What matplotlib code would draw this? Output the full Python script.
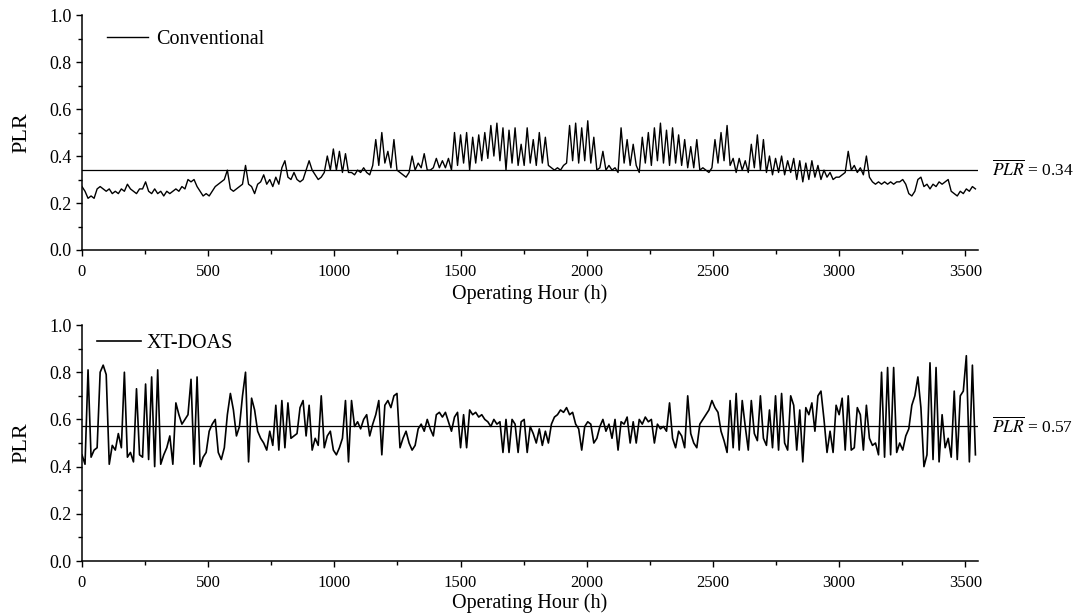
import numpy as np
import matplotlib.pyplot as plt
from matplotlib.ticker import MultipleLocator, FormatStrFormatter
import matplotlib.transforms as mtransforms

plt.rcParams['font.family'] = ['Liberation Serif', 'DejaVu Serif']
plt.rcParams['mathtext.fontset'] = 'stix'

# hourly part-load ratio, sampled every 12 operating hours
hours = np.arange(0, 3552, 12)

plr_conventional = [
    0.27, 0.25, 0.22, 0.23, 0.22, 0.26, 0.27, 0.26, 0.25, 0.26, 0.24, 0.25, 0.24, 0.26, 0.25, 0.28, 0.26, 0.25, 0.24, 0.26,
    0.26, 0.29, 0.25, 0.24, 0.26, 0.24, 0.25, 0.23, 0.25, 0.24, 0.25, 0.26, 0.25, 0.27, 0.26, 0.30, 0.29, 0.30, 0.27, 0.25,
    0.23, 0.24, 0.23, 0.25, 0.27, 0.28, 0.29, 0.30, 0.34, 0.26, 0.25, 0.26, 0.27, 0.28, 0.36, 0.28, 0.27, 0.24, 0.28, 0.29,
    0.32, 0.28, 0.30, 0.27, 0.31, 0.28, 0.35, 0.38, 0.31, 0.30, 0.33, 0.30, 0.29, 0.30, 0.34, 0.38, 0.34, 0.32, 0.30, 0.31,
    0.33, 0.40, 0.34, 0.43, 0.34, 0.42, 0.33, 0.41, 0.33, 0.33, 0.32, 0.34, 0.33, 0.35, 0.33, 0.32, 0.36, 0.47, 0.36, 0.50,
    0.37, 0.42, 0.35, 0.47, 0.34, 0.33, 0.32, 0.31, 0.33, 0.40, 0.34, 0.37, 0.35, 0.41, 0.34, 0.34, 0.35, 0.39, 0.35, 0.38,
    0.35, 0.39, 0.34, 0.50, 0.36, 0.49, 0.37, 0.50, 0.34, 0.48, 0.37, 0.49, 0.38, 0.50, 0.39, 0.53, 0.40, 0.54, 0.38, 0.52,
    0.34, 0.51, 0.37, 0.52, 0.36, 0.45, 0.36, 0.52, 0.37, 0.47, 0.36, 0.50, 0.37, 0.48, 0.36, 0.35, 0.34, 0.35, 0.34, 0.36,
    0.37, 0.53, 0.38, 0.54, 0.37, 0.52, 0.38, 0.55, 0.37, 0.48, 0.34, 0.35, 0.42, 0.34, 0.36, 0.34, 0.35, 0.33, 0.52, 0.37,
    0.47, 0.36, 0.45, 0.36, 0.33, 0.48, 0.37, 0.50, 0.36, 0.52, 0.38, 0.54, 0.37, 0.51, 0.36, 0.52, 0.37, 0.49, 0.36, 0.47,
    0.35, 0.44, 0.35, 0.47, 0.34, 0.35, 0.34, 0.33, 0.35, 0.47, 0.37, 0.50, 0.38, 0.53, 0.36, 0.39, 0.33, 0.39, 0.34, 0.38,
    0.33, 0.45, 0.35, 0.49, 0.34, 0.47, 0.33, 0.40, 0.32, 0.39, 0.33, 0.40, 0.32, 0.38, 0.33, 0.39, 0.30, 0.38, 0.29, 0.37,
    0.30, 0.38, 0.31, 0.36, 0.30, 0.34, 0.31, 0.33, 0.30, 0.31, 0.31, 0.32, 0.33, 0.42, 0.34, 0.36, 0.33, 0.35, 0.32, 0.40,
    0.31, 0.29, 0.28, 0.29, 0.28, 0.29, 0.28, 0.29, 0.28, 0.29, 0.29, 0.30, 0.28, 0.24, 0.23, 0.25, 0.30, 0.31, 0.27, 0.28,
    0.26, 0.28, 0.27, 0.29, 0.28, 0.29, 0.30, 0.25, 0.24, 0.23, 0.25, 0.24, 0.26, 0.25, 0.27, 0.26,
]

plr_xtdoas = [
    0.45, 0.41, 0.81, 0.44, 0.47, 0.48, 0.80, 0.83, 0.79, 0.41, 0.49, 0.47, 0.54, 0.48, 0.80, 0.44, 0.46, 0.42, 0.73, 0.45,
    0.44, 0.75, 0.43, 0.78, 0.40, 0.81, 0.41, 0.45, 0.48, 0.53, 0.41, 0.67, 0.62, 0.58, 0.60, 0.62, 0.77, 0.41, 0.78, 0.40,
    0.44, 0.46, 0.55, 0.58, 0.60, 0.46, 0.43, 0.48, 0.62, 0.71, 0.64, 0.53, 0.57, 0.70, 0.80, 0.42, 0.69, 0.64, 0.55, 0.52,
    0.50, 0.47, 0.55, 0.49, 0.66, 0.47, 0.68, 0.48, 0.67, 0.52, 0.53, 0.54, 0.65, 0.68, 0.53, 0.66, 0.47, 0.52, 0.49, 0.70,
    0.48, 0.53, 0.55, 0.47, 0.45, 0.48, 0.52, 0.68, 0.42, 0.68, 0.57, 0.59, 0.56, 0.60, 0.62, 0.53, 0.58, 0.62, 0.68, 0.45,
    0.66, 0.68, 0.65, 0.70, 0.71, 0.48, 0.52, 0.55, 0.50, 0.47, 0.49, 0.56, 0.58, 0.55, 0.60, 0.56, 0.53, 0.62, 0.63, 0.61,
    0.63, 0.59, 0.55, 0.61, 0.63, 0.48, 0.62, 0.48, 0.64, 0.62, 0.63, 0.61, 0.62, 0.60, 0.59, 0.57, 0.60, 0.58, 0.59, 0.46,
    0.60, 0.46, 0.60, 0.58, 0.46, 0.59, 0.60, 0.46, 0.57, 0.54, 0.50, 0.56, 0.49, 0.55, 0.50, 0.58, 0.61, 0.62, 0.64, 0.63,
    0.65, 0.62, 0.63, 0.58, 0.56, 0.47, 0.57, 0.59, 0.58, 0.50, 0.52, 0.57, 0.60, 0.55, 0.58, 0.52, 0.60, 0.47, 0.59, 0.58,
    0.61, 0.50, 0.59, 0.50, 0.60, 0.58, 0.61, 0.59, 0.60, 0.50, 0.58, 0.56, 0.57, 0.55, 0.67, 0.52, 0.48, 0.55, 0.53, 0.48,
    0.70, 0.54, 0.50, 0.48, 0.58, 0.60, 0.62, 0.64, 0.68, 0.65, 0.63, 0.55, 0.51, 0.46, 0.68, 0.48, 0.71, 0.47, 0.68, 0.57,
    0.47, 0.68, 0.54, 0.51, 0.70, 0.52, 0.49, 0.64, 0.48, 0.70, 0.47, 0.71, 0.50, 0.47, 0.70, 0.66, 0.47, 0.64, 0.42, 0.65,
    0.62, 0.67, 0.55, 0.70, 0.72, 0.60, 0.46, 0.55, 0.46, 0.66, 0.62, 0.69, 0.47, 0.70, 0.47, 0.48, 0.65, 0.62, 0.47, 0.66,
    0.52, 0.49, 0.50, 0.45, 0.80, 0.44, 0.82, 0.45, 0.82, 0.46, 0.50, 0.47, 0.53, 0.56, 0.66, 0.70, 0.78, 0.65, 0.40, 0.45,
    0.84, 0.43, 0.82, 0.42, 0.62, 0.48, 0.52, 0.44, 0.72, 0.43, 0.70, 0.72, 0.87, 0.42, 0.83, 0.45,
]

# name, values, mean PLR, line width, legend anchor, handle length, handle gap, xlabel offset
series = [("Conventional", plr_conventional, 0.34, 1.0, (0.0235, 0.955), 2.05, 0.4, -0.147),
          ("XT-DOAS", plr_xtdoas, 0.57, 1.2, (0.012, 0.98), 2.2, 0.25, -0.136)]

fig = plt.figure(figsize=(10.83, 6.15), dpi=100)
axes = [fig.add_axes([0.0757, 0.5935, 0.8273, 0.382]),
        fig.add_axes([0.0757, 0.0878, 0.8273, 0.3837])]

for ax, (name, values, mean, lw, anchor, hlen, hpad, xlab_y) in zip(axes, series):
    ax.plot(hours, values, color="black", lw=lw, label=name)
    ax.axhline(mean, color="black", lw=0.9)

    ax.set_xlim(0, 3550)
    ax.set_ylim(0, 1.0)
    ax.xaxis.set_major_locator(MultipleLocator(500))
    ax.xaxis.set_minor_locator(MultipleLocator(250))
    ax.yaxis.set_major_locator(MultipleLocator(0.2))
    ax.yaxis.set_minor_locator(MultipleLocator(0.1))
    ax.yaxis.set_major_formatter(FormatStrFormatter("%.1f"))

    for side in ("top", "right"):
        ax.spines[side].set_visible(False)
    for side in ("left", "bottom"):
        ax.spines[side].set_linewidth(1.1)
    ax.tick_params(which="major", direction="out", length=4.5, width=1.0)
    ax.tick_params(which="minor", direction="out", length=2.8, width=1.0)
    ax.tick_params(axis="x", which="major", labelsize=12, pad=5.5)
    ax.tick_params(axis="y", which="major", labelsize=13, pad=3)

    ax.set_xlabel("Operating Hour (h)", fontsize=14.5)
    ax.set_ylabel("PLR", fontsize=16)
    ax.xaxis.set_label_coords(0.5, xlab_y)
    ax.yaxis.set_label_coords(-0.0565, 0.5)

    ax.legend(loc="upper left", bbox_to_anchor=anchor, frameon=False, fontsize=14.5,
              handlelength=hlen, handletextpad=hpad, borderaxespad=0, borderpad=0.2)

    trans = mtransforms.blended_transform_factory(ax.transAxes, ax.transData)
    ax.text(1.016, mean, r"$\overline{PLR}$" + f" = {mean:.2f}", transform=trans,
            ha="left", va="center", fontsize=12.5)

fig.savefig("out.png", dpi=100)
